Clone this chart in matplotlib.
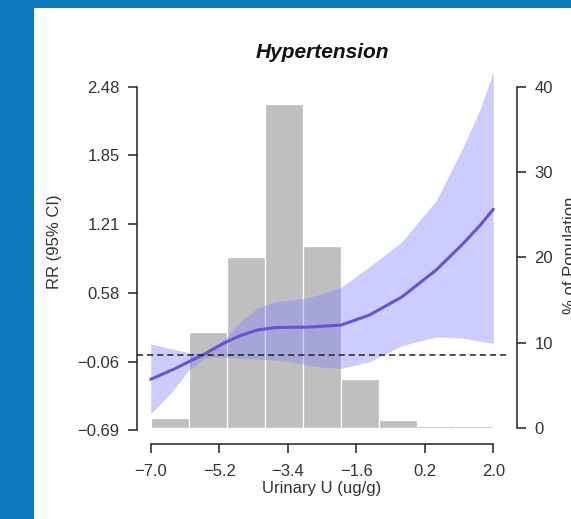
import numpy as np
import matplotlib
matplotlib.use("Agg")
import matplotlib.pyplot as plt
from matplotlib.patches import Rectangle

plt.rcParams['font.family'] = ['Liberation Sans', 'DejaVu Sans']

# spline fit (log RR)
u_grid = [-7.0, -6.4, -6.0, -5.6, -5.25, -5.0, -4.65, -4.2, -3.75, -3.3,
          -2.9, -2.45, -2.0, -1.25, -0.4, 0.5, 1.2, 1.65, 2.0]
rr_fit = [-0.221, -0.129, -0.059, 0.009, 0.08, 0.126, 0.182, 0.234, 0.256, 0.26,
          0.26, 0.27, 0.28, 0.373, 0.54, 0.789, 1.03, 1.2, 1.35]
rr_upper = [0.105, 0.056, 0.025, 0.019, 0.096, 0.172, 0.311, 0.435, 0.496, 0.511,
            0.53, 0.574, 0.63, 0.82, 1.05, 1.43, 1.92, 2.27, 2.62]
rr_lower = [-0.542, -0.32, -0.135, -0.027, -0.013, -0.02, -0.027, -0.035, -0.043, -0.06,
            -0.089, -0.11, -0.12, -0.06, 0.09, 0.17, 0.16, 0.13, 0.111]

# histogram of exposure (% of population)
bin_left = [-7, -6, -5, -4, -3, -2, -1, 0, 1]
pct = [1.14, 11.3, 20.0, 38.0, 21.4, 5.71, 0.94, 0.25, 0.25]

yticks = [-0.69, -0.06, 0.58, 1.21, 1.85, 2.48]
xticks = [-7.0, -5.2, -3.4, -1.6, 0.2, 2.0]
pct_ticks = [0, 10, 20, 30, 40]

W, H = 571, 519
fig = plt.figure(figsize=(W / 100, H / 100), dpi=100, facecolor='#0b7bbd')
fig.patches.append(Rectangle((34 / W, 0), 1, (H - 8) / H, transform=fig.transFigure,
                             facecolor='white', edgecolor='none', zorder=-5))

ax = fig.add_axes([137 / W, 75 / H, 370 / W, 371 / H])
ax2 = ax.twinx()
ax.set_zorder(ax2.get_zorder() + 1)
ax.patch.set_visible(False)
ax2.patch.set_visible(False)

txt = '#333333'
fs = 12

def fmt(v, nd):
    s = ('%.' + str(nd) + 'f') % v
    return s.replace('-', '\u2212')

# bars
ax2.bar(bin_left, pct, width=1, align='edge', color='#bfbfbf', edgecolor='white', linewidth=0.9)
ax2.set_ylim(-1.88, 41.64)

# band + fit
ax.fill_between(u_grid, rr_lower, rr_upper, color='#7b7bff', alpha=0.38, linewidth=0)
ax.plot(u_grid, rr_fit, color='#6655d0', lw=2.2, solid_capstyle='round')
ax.axhline(0, color='#222222', lw=1.1, linestyle=(0, (4, 2.6)))

ax.set_xlim(-7.36, 2.36)
ax.set_ylim(-0.819, 2.609)

for s in ['top', 'right']:
    ax.spines[s].set_visible(False)
ax.spines['left'].set_bounds(-0.69, 2.48)
ax.spines['bottom'].set_bounds(-7, 2)
for s in ['left', 'bottom']:
    ax.spines[s].set_linewidth(1.1)
    ax.spines[s].set_color('#222222')

for s in ['top', 'left', 'bottom']:
    ax2.spines[s].set_visible(False)
ax2.spines['right'].set_position(('outward', 7.2))
ax2.spines['right'].set_bounds(0, 40)
ax2.spines['right'].set_linewidth(1.1)
ax2.spines['right'].set_color('#222222')

ax.set_yticks(yticks)
ax.set_yticklabels([fmt(v, 2) for v in yticks])
ax.set_xticks(xticks)
ax.set_xticklabels([fmt(v, 1) for v in xticks])
ax2.set_yticks(pct_ticks)
ax.tick_params(axis='y', length=6.5, width=1.1, color='#222222', labelsize=fs,
               labelcolor=txt, pad=6)
ax.tick_params(axis='x', length=6.5, width=1.1, color='#222222', labelsize=fs,
               labelcolor=txt, pad=8)
ax2.tick_params(axis='y', length=6.5, width=1.1, color='#222222', labelsize=fs,
                labelcolor=txt, pad=6)

ax.set_xlabel('Urinary U (ug/g)', fontsize=fs, color=txt, labelpad=1)

fig.text(54 / W, 1 - 242 / H, 'RR (95% CI)', rotation=90, ha='center', va='center',
         fontsize=fs, color=txt)
fig.text(563 / W, 1 - 255 / H, '% of Population', rotation=90, ha='left', va='center',
         fontsize=fs, color=txt)
fig.text(322 / W, 1 - 53 / H, 'Hypertension', ha='center', va='center', fontsize=15,
         fontweight='bold', fontstyle='italic', color='#111111')

fig.savefig('out.png', dpi=100, facecolor=fig.get_facecolor())
